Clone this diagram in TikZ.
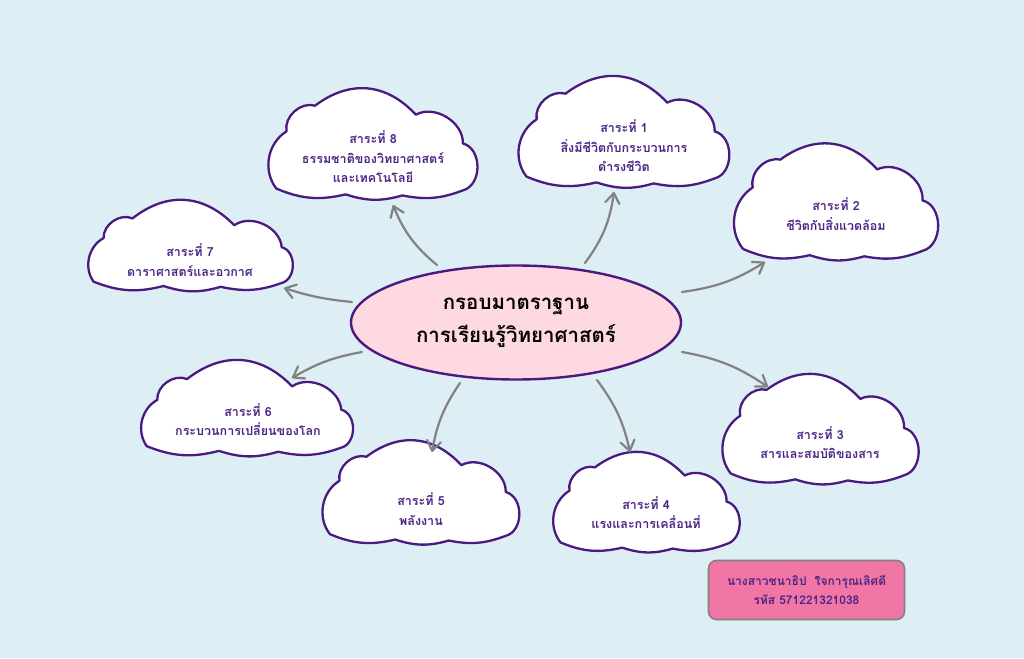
\documentclass[tikz,border=0pt]{standalone}
\usepackage{fontspec}
\newfontfamily\thaifont[Script=Thai]{Loma}
\usetikzlibrary{shapes.geometric,arrows.meta}
\definecolor{bg}{HTML}{DDEFF4}
\definecolor{cpurple}{HTML}{4A1A80}
\definecolor{tpurple}{HTML}{4B2585}
\definecolor{epink}{HTML}{FFD9E1}
\definecolor{boxpink}{HTML}{F176A6}
\definecolor{arrgray}{HTML}{828282}
\tikzset{
  cloudline/.style={draw=cpurple, line width=2.3pt, fill=white, line join=round},
  ctext/.style={text=tpurple, align=center, font=\thaifont\bfseries\fontsize{12.5}{19.5}\selectfont, inner sep=0pt},
  arr/.style={draw=arrgray, line width=2.2pt, line cap=round, line join=round, -{Straight Barb[length=10pt,width=14pt,line cap=round,line join=round]}},
}
% cloud outline in a box: left, top, width, height (pixels)
\newcommand\drawcloud[4]{%
  \begin{scope}[shift={(#1,#2)}, x=#3pt, y=-#4pt]
    \path[cloudline] (0.04,0.92) to[bend left=48] (0.088,0.375)
      to[bend left=58] (0.224,0.13) to[bend left=42, looseness=1.1] (0.704,0.216)
      to[bend left=60] (0.928,0.49) to[bend left=75, looseness=1.1] (0.928,0.937)
      to[bend left=16] (0.64,0.985) to[bend left=17] (0.37,0.975)
      to[bend left=18] (0.04,0.92) -- cycle;
  \end{scope}}
\begin{document}
\begin{tikzpicture}[x=1pt,y=-1pt]
\useasboundingbox[fill=bg] (0,0) rectangle (1024,658);

% central ellipse
\node[ellipse, draw=cpurple, line width=2.4pt, fill=epink, minimum width=330pt, minimum height=114pt, inner sep=0pt,
      align=center, font=\thaifont\bfseries\fontsize{20.5}{37}\selectfont] (e) at (516,322.5)
      {\raisebox{-4pt}{กรอบมาตราฐาน}\\การเรียนรู้วิทยาศาสตร์};

% clouds
\drawcloud{268}{92}{210}{105}
\node[ctext] (c8) at (373,157) {สาระที่ 8\\ธรรมชาติของวิทยาศาสตร์\\และเทคโนโลยี};

\drawcloud{518}{80}{212}{105}
\node[ctext] (c1) at (624,146) {สาระที่ 1\\สิ่งมีชีวิตกับกระบวนการ\\ดำรงชีวิต};

\drawcloud{735}{145}{202}{113}
\node[ctext] (c2) at (836,214) {สาระที่ 2\\ชีวิตกับสิ่งแวดล้อม};

\drawcloud{85}{208}{212}{80}
\node[ctext] (c7) at (190,260) {สาระที่ 7\\ดาราศาสตร์และอวกาศ};

\drawcloud{138}{368}{219}{85}
\node[ctext] (c6) at (248,419.5) {สาระที่ 6\\กระบวนการเปลี่ยนของโลก};

\drawcloud{322}{444}{198}{98}
\node[ctext] (c5) at (421,509) {สาระที่ 5\\พลังงาน};

\drawcloud{553}{455}{187}{95}
\node[ctext] (c4) at (646,512.5) {สาระที่ 4\\แรงและการเคลื่อนที่};

\drawcloud{723}{376}{195}{106}
\node[ctext] (c3) at (820,442.5) {สาระที่ 3\\สารและสมบัติของสาร};

% name box
\node[draw=arrgray, line width=1.6pt, rounded corners=8pt, fill=boxpink, minimum width=196pt, minimum height=59pt,
      align=center, text=tpurple, font=\thaifont\bfseries\fontsize{12}{19.5}\selectfont] (nb) at (806.5,590)
      {นางสาวชนาธิป\ \ ใจการุณเลิศดี\\รหัส 571221321038};

% arrow end points
\coordinate (s8) at (437,265); \coordinate (t8) at (393,205);
\coordinate (s1) at (585,263); \coordinate (t1) at (614,192);
\coordinate (s2) at (682,292); \coordinate (t2) at (765,262);
\coordinate (s7) at (352,302); \coordinate (t7) at (284,288);
\coordinate (s6) at (362,352); \coordinate (t6) at (292,378);
\coordinate (s5) at (460,383); \coordinate (t5) at (432,452);
\coordinate (s4) at (597,380); \coordinate (t4) at (630,452);
\coordinate (s3) at (682,352); \coordinate (t3) at (768,387);

\draw[arr] (s8) to[bend left=14] (t8);
\draw[arr] (s1) to[bend right=14] (t1);
\draw[arr] (s2) to[bend right=12] (t2);
\draw[arr] (s7) to[bend left=6] (t7);
\draw[arr] (s6) to[bend right=10] (t6);
\draw[arr] (s5) to[bend right=12] (t5);
\draw[arr] (s4) to[bend left=12] (t4);
\draw[arr] (s3) to[bend left=12] (t3);
\end{tikzpicture}
\end{document}
